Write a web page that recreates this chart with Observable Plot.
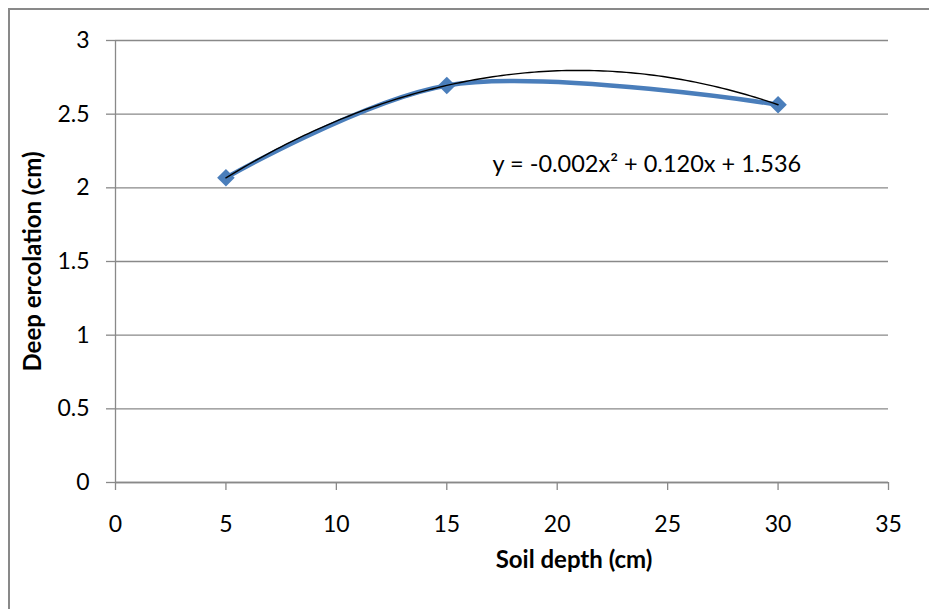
<!DOCTYPE html>
<html><head><meta charset="utf-8">
<script src="https://cdn.jsdelivr.net/npm/d3@7"></script>
<script src="https://cdn.jsdelivr.net/npm/@observablehq/plot@0.6"></script>
<style>
html,body{margin:0;padding:0;background:#fff;overflow:hidden;width:929px;height:609px}
#frame{position:absolute;left:8px;top:8px;width:1400px;height:1000px;border:2px solid #898989;box-sizing:border-box}
#chart{position:absolute;left:0;top:0}
</style></head><body>
<div id="frame"></div><div id="chart"></div>
<script>
const soilDepth = [5, 15, 30];
const deepPercolation = [2.068, 2.695, 2.564];
const xTicks = [0, 5, 10, 15, 20, 25, 30, 35];
const yTicks = [0, 0.5, 1, 1.5, 2, 2.5, 3];
const xTitle = "Soil depth (cm)";
const yTitle = "Deep ercolation (cm)";
const equationLabel = "y = -0.002x² + 0.120x + 1.536";

const points = soilDepth.map((x, i) => ({x, y: deepPercolation[i]}));

// second-order polynomial least-squares trendline computed from the data
function polyfit2(xs, ys) {
  const S = [0,0,0,0,0], T = [0,0,0];
  xs.forEach((x, i) => {
    for (let k = 0; k < 5; k++) S[k] += x ** k;
    for (let k = 0; k < 3; k++) T[k] += ys[i] * x ** k;
  });
  const A = [[S[0],S[1],S[2],T[0]],[S[1],S[2],S[3],T[1]],[S[2],S[3],S[4],T[2]]];
  for (let c = 0; c < 3; c++) {
    for (let r = c + 1; r < 3; r++) {
      const f = A[r][c] / A[c][c];
      for (let k = c; k < 4; k++) A[r][k] -= f * A[c][k];
    }
  }
  const sol = [0,0,0];
  for (let r = 2; r >= 0; r--) {
    let s = A[r][3];
    for (let k = r + 1; k < 3; k++) s -= A[r][k] * sol[k];
    sol[r] = s / A[r][r];
  }
  return sol; // c0, c1, c2
}
const coef = polyfit2(soilDepth, deepPercolation);
const xMin = d3.min(soilDepth), xMax = d3.max(soilDepth);
const trend = d3.range(121).map(i => {
  const x = xMin + (xMax - xMin) * i / 120;
  return {x, y: coef[0] + coef[1] * x + coef[2] * x * x};
});

const gray = "#898989";
const chart = Plot.plot({
  width: 929, height: 609,
  marginLeft: 115, marginRight: 41, marginTop: 40, marginBottom: 127,
  style: {fontFamily: "Lato, 'Open Sans', sans-serif", fontSize: "23px", background: "transparent", color: "#000"},
  x: {domain: [0, 35]},
  y: {domain: [0, 3]},
  marks: [
    Plot.gridY(yTicks, {stroke: gray, strokeOpacity: 1, strokeWidth: 1.3}),
    Plot.axisY(yTicks, {tickSize: 9, tickPadding: 17, stroke: gray, strokeWidth: 1.3, label: null, tickFormat: d => String(d)}),
    Plot.axisX(xTicks, {tickSize: 8, tickPadding: 25, stroke: gray, strokeWidth: 1.3, label: null, tickFormat: d => String(d)}),
    Plot.ruleX([0], {stroke: gray, strokeWidth: 1.3}),
    Plot.ruleY([0], {stroke: gray, strokeWidth: 1.3}),
    Plot.line(points, {x: "x", y: "y", curve: "catmull-rom", stroke: "#4A7EBB", strokeWidth: 4.5}),
    Plot.dot(points, {x: "x", y: "y", symbol: "square", rotate: 45, r: 7, fill: "#4A7EBB", stroke: null}),
    Plot.line(trend, {x: "x", y: "y", stroke: "#000", strokeWidth: 1.4}),
    Plot.text([equationLabel], {text: d => d, frameAnchor: "top-left", textAnchor: "start", lineAnchor: "middle", dx: 377, dy: 124, fontSize: 23.5}),
    Plot.text([xTitle], {text: d => d, frameAnchor: "bottom", textAnchor: "middle", lineAnchor: "middle", dx: 72, dy: 78, fontWeight: "bold", fontSize: 24}),
    Plot.text([yTitle], {text: d => d, frameAnchor: "left", textAnchor: "middle", lineAnchor: "middle", rotate: -90, dx: -82, fontWeight: "bold", fontSize: 24})
  ]
});
document.getElementById("chart").appendChild(chart);
</script>
</body></html>
